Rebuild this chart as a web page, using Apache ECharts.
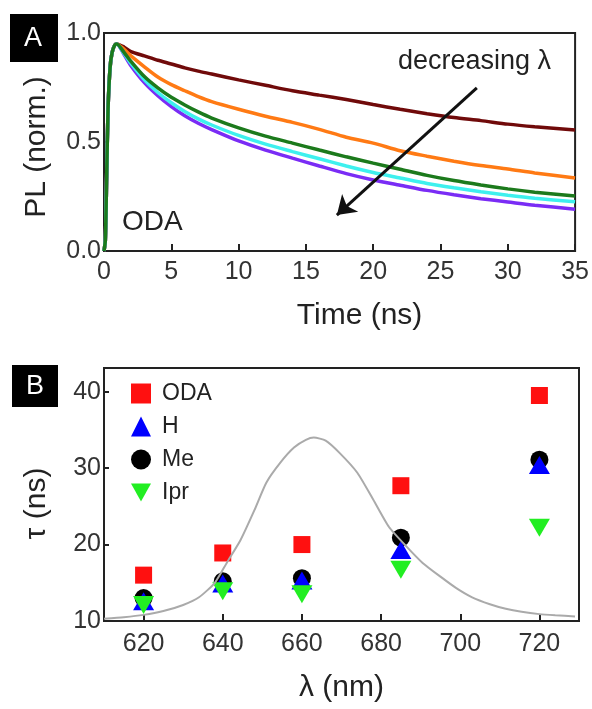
<!DOCTYPE html>
<html>
<head>
<meta charset="utf-8">
<title>PL decays and lifetimes</title>
<script src="https://cdn.jsdelivr.net/npm/echarts@6/dist/echarts.min.js"></script>
<style>
  html, body { margin: 0; padding: 0; background: #fff; }
  #chart { width: 592px; height: 709px; }
</style>
</head>
<body>
<div id="chart"></div>
<script>
// ---- Panel A: normalised PL decays (ODA), one trace per detection wavelength ----
const decayTime = [0, 0.1, 0.2, 0.3, 0.45, 0.6, 0.8, 0.95, 1.5, 2, 3, 4, 5, 6, 7, 8,
                   10, 12, 14, 16, 18, 20, 22, 24, 26, 28, 30, 32, 35];
const plMaroon = [0, 0.05, 0.35, 0.65, 0.84, 0.91, 0.945, 0.95, 0.935, 0.915, 0.895, 0.875, 0.858, 0.84, 0.825, 0.812,
                  0.785, 0.76, 0.735, 0.715, 0.695, 0.672, 0.65, 0.63, 0.612, 0.598, 0.582, 0.57, 0.555];
const plOrange = [0, 0.05, 0.35, 0.65, 0.84, 0.91, 0.945, 0.95, 0.925, 0.895, 0.845, 0.798, 0.763, 0.735, 0.708, 0.685,
                  0.65, 0.618, 0.59, 0.558, 0.522, 0.495, 0.46, 0.435, 0.412, 0.392, 0.376, 0.358, 0.335];
const plGreen  = [0, 0.05, 0.35, 0.65, 0.84, 0.91, 0.945, 0.95, 0.91, 0.87, 0.80, 0.748, 0.705, 0.67, 0.638, 0.61,
                  0.565, 0.527, 0.495, 0.463, 0.432, 0.403, 0.375, 0.347, 0.323, 0.303, 0.285, 0.27, 0.252];
const plCyan   = [0, 0.05, 0.35, 0.65, 0.84, 0.91, 0.945, 0.95, 0.905, 0.86, 0.785, 0.727, 0.68, 0.64, 0.606, 0.578,
                  0.53, 0.49, 0.456, 0.423, 0.39, 0.36, 0.335, 0.31, 0.29, 0.272, 0.256, 0.242, 0.226];
const plPurple = [0, 0.05, 0.35, 0.65, 0.84, 0.91, 0.945, 0.95, 0.90, 0.85, 0.772, 0.712, 0.662, 0.62, 0.586, 0.557,
                  0.505, 0.463, 0.426, 0.39, 0.355, 0.326, 0.302, 0.278, 0.258, 0.24, 0.225, 0.21, 0.192];
const timeTicks = [0, 5, 10, 15, 20, 25, 30, 35];
const plTicks = [0, 0.5, 1.0];

// ---- Panel B: lifetimes vs wavelength, with the absorption profile behind ----
const wavelengths = [620, 640, 660, 685, 720];
const tauODA = [16.0, 18.9, 20.0, 27.7, 39.5];
const tauH   = [12.6, 14.9, 15.3, 19.3, 30.4];
const tauMe  = [13.0, 15.2, 15.6, 20.9, 31.1];
const tauIpr = [12.1, 13.9, 13.5, 16.7, 22.2];
const specWl  = [610, 615, 620, 625, 630, 634, 638, 641, 644.5, 648, 651, 654.5, 658, 661, 663, 666, 669.5,
                 674, 678, 682, 686.5, 690.5, 695, 699, 703, 707.5, 711.5, 715.5, 720, 724, 729];
const specVal = [10.3, 10.5, 10.8, 11.3, 12.1, 13.1, 15.0, 17.6, 20.6, 24.5, 28.1, 30.7, 32.7, 33.7, 34.0, 33.6, 32.0,
                 29.4, 25.9, 22.3, 19.7, 17.6, 15.8, 14.3, 13.1, 12.2, 11.6, 11.2, 10.9, 10.75, 10.6];
const wlTicks = [620, 640, 660, 680, 700, 720];
const tauTicks = [10, 20, 30, 40];

const FONT = 'Liberation Sans, Arial, sans-serif';
const INK = '#222';
const LABEL = '#333';

function pairs(xs, ys) { return xs.map((x, i) => [x, ys[i]]); }

const downTriangle = 'path://M0,0 L10,0 L5,9 Z';

function decaySeries(name, color, values, extra) {
  return Object.assign({
    name: name, type: 'line', xAxisIndex: 0, yAxisIndex: 0,
    data: pairs(decayTime, values), showSymbol: false, smooth: 0.25,
    lineStyle: { color: color, width: 3.5 }, silent: true
  }, extra || {});
}

const baseAxis = {
  axisLine: { show: false },
  splitLine: { show: false },
  axisTick: { inside: true, length: 7, lineStyle: { color: INK, width: 2 } },
  axisLabel: { color: LABEL, fontSize: 25, fontFamily: FONT },
  nameTextStyle: { color: INK, fontSize: 30, fontFamily: FONT },
  nameLocation: 'middle'
};

const option = {
  animation: false,
  backgroundColor: '#fff',
  textStyle: { fontFamily: FONT },
  grid: [
    { left: 104, top: 33, width: 473, height: 218, show: true, borderColor: INK, borderWidth: 2 },
    { left: 104, top: 368, width: 475, height: 253, show: true, borderColor: INK, borderWidth: 2 }
  ],
  xAxis: [
    Object.assign({}, baseAxis, {
      gridIndex: 0, type: 'value', min: 0, max: 35, interval: 5,
      name: 'Time (ns)', nameGap: 50,
      nameTextStyle: Object.assign({}, baseAxis.nameTextStyle, { padding: [0, 0, 0, 40] }),
      axisTick: Object.assign({}, baseAxis.axisTick, { customValues: timeTicks }),
      axisLabel: Object.assign({}, baseAxis.axisLabel, { margin: 9, customValues: timeTicks })
    }),
    Object.assign({}, baseAxis, {
      gridIndex: 1, type: 'value', min: 610, max: 730,
      name: 'λ (nm)', nameGap: 52,
      axisTick: Object.assign({}, baseAxis.axisTick, { customValues: wlTicks }),
      axisLabel: Object.assign({}, baseAxis.axisLabel, { margin: 11, customValues: wlTicks })
    })
  ],
  yAxis: [
    Object.assign({}, baseAxis, {
      gridIndex: 0, type: 'value', min: 0, max: 1.0,
      name: 'PL (norm.)', nameGap: 52,
      nameTextStyle: Object.assign({}, baseAxis.nameTextStyle, { padding: [0, 10, 0, 0] }),
      axisTick: Object.assign({}, baseAxis.axisTick, { length: 5, customValues: plTicks }),
      axisLabel: Object.assign({}, baseAxis.axisLabel, {
        margin: 3, customValues: plTicks, formatter: v => v.toFixed(1)
      })
    }),
    Object.assign({}, baseAxis, {
      gridIndex: 1, type: 'value', min: 10, max: 43.1,
      name: 'τ (ns)', nameGap: 52,
      nameTextStyle: Object.assign({}, baseAxis.nameTextStyle, { padding: [0, 18, 0, 0] }),
      axisTick: Object.assign({}, baseAxis.axisTick, { length: 5, customValues: tauTicks }),
      axisLabel: Object.assign({}, baseAxis.axisLabel, { margin: 3, customValues: tauTicks })
    })
  ],
  legend: {
    data: ['ODA', 'H', 'Me', 'Ipr'],
    orient: 'vertical', left: 131, top: 382, padding: 0,
    itemWidth: 20, itemHeight: 20, itemGap: 10,
    textStyle: { color: INK, fontSize: 23, fontFamily: FONT, padding: [0, 0, 0, 6] },
    selectedMode: false
  },
  series: [
    decaySeries('maroon', '#700a0a', plMaroon, {
      markLine: {
        silent: true, animation: false,
        symbol: ['none', 'arrow'], symbolSize: 18,
        label: { show: false },
        emphasis: { disabled: true },
        lineStyle: { color: '#111', width: 3, type: 'solid', opacity: 1 },
        data: [[{ coord: [27.7, 0.748] }, { coord: [17.3, 0.165] }]]
      }
    }),
    decaySeries('orange', '#ff7a14', plOrange),
    decaySeries('purple', '#7a2cf5', plPurple),
    decaySeries('cyan', '#3ef0ee', plCyan),
    decaySeries('green', '#1c7a1c', plGreen),

    {
      name: 'absorption', type: 'line', xAxisIndex: 1, yAxisIndex: 1,
      data: pairs(specWl, specVal), showSymbol: false, smooth: 0.2, silent: true,
      lineStyle: { color: '#aaaaaa', width: 2 }
    },
    {
      name: 'Me', type: 'scatter', xAxisIndex: 1, yAxisIndex: 1,
      data: pairs(wavelengths, tauMe), symbol: 'circle', symbolSize: 18,
      itemStyle: { color: '#000', opacity: 1 }
    },
    {
      name: 'H', type: 'scatter', xAxisIndex: 1, yAxisIndex: 1,
      data: pairs(wavelengths, tauH), symbol: 'triangle', symbolSize: [21, 18],
      itemStyle: { color: '#0000ff', opacity: 1 }
    },
    {
      name: 'Ipr', type: 'scatter', xAxisIndex: 1, yAxisIndex: 1,
      data: pairs(wavelengths, tauIpr), symbol: downTriangle, symbolSize: [21, 18],
      itemStyle: { color: '#22ee22', opacity: 1 }
    },
    {
      name: 'ODA', type: 'scatter', xAxisIndex: 1, yAxisIndex: 1,
      data: pairs(wavelengths, tauODA), symbol: 'rect', symbolSize: 17,
      itemStyle: { color: '#ff1010', opacity: 1 }
    }
  ],
  graphic: [
    { type: 'rect', left: 10, top: 14, shape: { width: 48, height: 48 }, style: { fill: '#000' } },
    { type: 'text', left: 24, top: 25, style: { text: 'A', fill: '#fff', fontSize: 27, fontFamily: FONT } },
    { type: 'rect', left: 12, top: 365, shape: { width: 46, height: 42 }, style: { fill: '#000' } },
    { type: 'text', left: 26, top: 373, style: { text: 'B', fill: '#fff', fontSize: 27, fontFamily: FONT } },
    { type: 'text', left: 398, top: 48, style: { text: 'decreasing λ', fill: INK, fontSize: 27, fontFamily: FONT } },
    { type: 'text', left: 122, top: 208, style: { text: 'ODA', fill: INK, fontSize: 28, fontFamily: FONT } }
  ]
};

const chart = echarts.init(document.getElementById('chart'), null, { renderer: 'canvas' });
chart.setOption(option);
</script>
</body>
</html>
